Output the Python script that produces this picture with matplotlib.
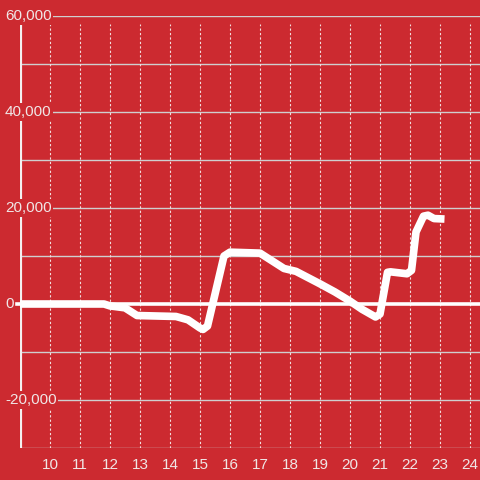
import matplotlib
matplotlib.use("Agg")
import matplotlib.pyplot as plt
from matplotlib.transforms import blended_transform_factory

# ---- data ----
hours = [9.0, 11.8, 12.0, 12.5, 12.9, 14.2, 14.6, 15.0, 15.1, 15.25, 15.8, 16.0,
         17.0, 17.3, 17.8, 18.2, 18.6, 19.0, 19.5, 20.0, 20.4, 20.85, 21.0,
         21.25, 21.35, 21.9, 22.05, 22.2, 22.45, 22.6, 22.8, 23.15]
values = [0, 0, -400, -800, -2400, -2600, -3300, -5000, -5300, -4600, 10000, 10800,
          10600, 9400, 7400, 6800, 5500, 4200, 2500, 600, -1100, -2700, -2100,
          6600, 6700, 6300, 7000, 15000, 18300, 18500, 17800, 17700]
x_ticks = list(range(10, 25))
y_label_values = [60000, 40000, 20000, 0, -20000]
y_label_texts = ["60,000", "40,000", "20,000", "0", "-20,000"]
y_grid = list(range(-30000, 60001, 10000))

BG = "#cc2a30"
TXT = "#f0e6e6"

plt.rcParams['font.family'] = ['Liberation Sans', 'DejaVu Sans']

fig = plt.figure(figsize=(4.8, 4.8), dpi=100, facecolor=BG)
ax = fig.add_axes([20/480, 32/480, 460/480, 432/480])
ax.set_facecolor(BG)
ax.set_xlim(9, 9 + 460/30)
ax.set_ylim(-30000, 60000)

for s in ax.spines.values():
    s.set_visible(False)

top_val = 58300
# horizontal gridlines
for g in y_grid:
    if g == 0:
        continue
    ax.axhline(g, color="#cfcfcf", lw=1.0, zorder=1)
# vertical dotted gridlines
ax.vlines(x_ticks, -30000, top_val, colors="#f2dede", lw=0.8,
          linestyles=(0, (2, 2)), zorder=1)
# zero line
ax.plot([8.9, 30], [0, 0], color="white", lw=2.6, zorder=2, clip_on=False)
# left axis line
ax.plot([9.0, 9.0], [-30000, top_val], color="#f4f0f0", lw=3, zorder=2,
        solid_capstyle='butt')

# data line
ax.plot(hours, values, color="white", lw=5.5, zorder=3,
        solid_joinstyle='round', solid_capstyle='butt')

# y labels
tr = blended_transform_factory(fig.transFigure, ax.transData)
for v, t in zip(y_label_values, y_label_texts):
    ax.text(5/480, v, t, transform=tr, ha='left', va='center', fontsize=11,
            color=TXT, zorder=5, clip_on=False,
            bbox=dict(boxstyle='square,pad=0.1', fc=BG, ec='none'))

ax.set_yticks([])
ax.set_xticks(x_ticks)
ax.set_xticklabels([str(x) for x in x_ticks])
ax.tick_params(axis='x', length=0, pad=7, labelsize=11, labelcolor=TXT)

fig.savefig("out.png", dpi=100, facecolor=BG)
